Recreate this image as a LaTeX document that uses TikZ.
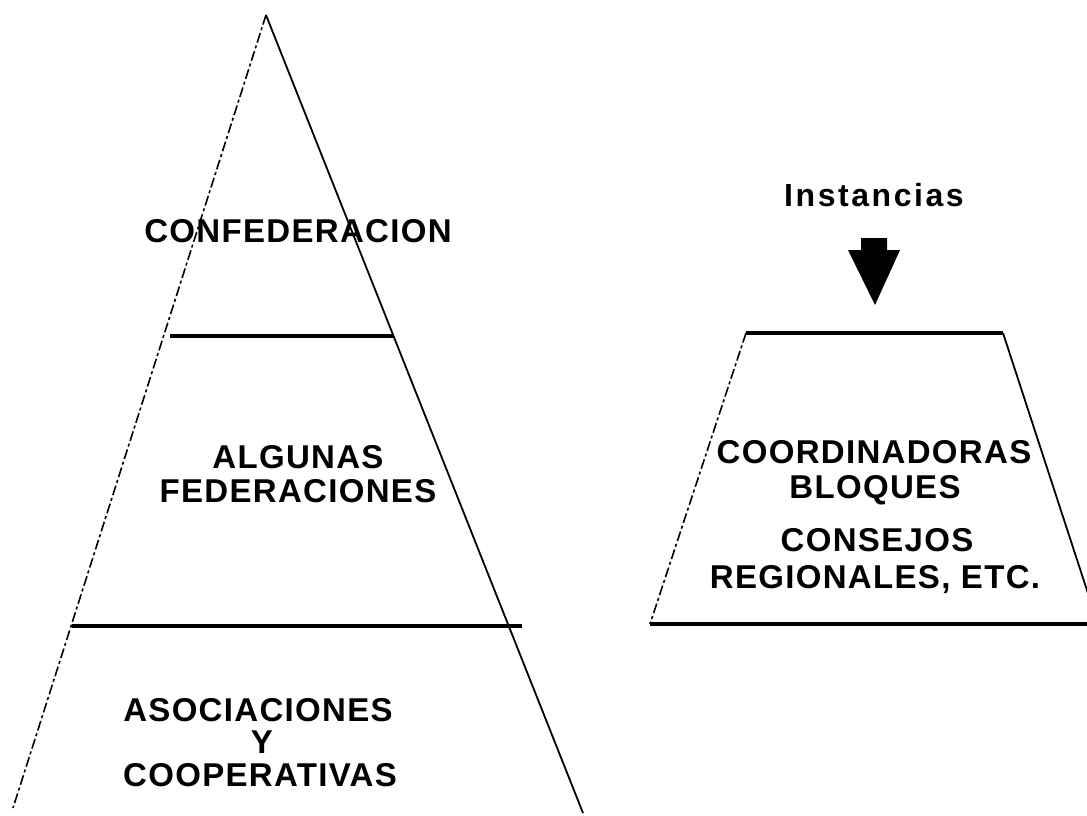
\documentclass[tikz,border=0pt]{standalone}
\usepackage{fontspec}
\newfontfamily\labfont{Liberation Sans}[LetterSpace=4]
\newfontfamily\instfont{Liberation Sans}[LetterSpace=8]
\begin{document}
\begin{tikzpicture}[x=1pt,y=-1pt,
  lbl/.style={font=\labfont\bfseries\fontsize{33}{36}\selectfont, anchor=base, inner sep=0pt},
  side/.style={line width=1.8pt},
  broken/.style={line width=1.6pt, dash pattern=on 10pt off 3pt on 3pt off 3pt},
  level/.style={line width=3.2pt}]
\clip (0,0) rectangle (1087,816);
\fill[white] (0,0) rectangle (1087,816);
% pyramid
\coordinate (apex) at (266,15);
\coordinate (bl) at (13,808);
\coordinate (br) at (583,813);
\draw[broken] (apex) -- (bl);
\draw[side] (apex) -- (br);
\coordinate (l1a) at (170,336);
\coordinate (l1b) at (393,336);
\coordinate (l2a) at (72,626);
\coordinate (l2b) at (522,626);
\draw[level] (l1a) -- (l1b);
\draw[level] (l2a) -- (l2b);
% pyramid labels
\node[lbl] (conf) at (298,242) {CONFEDERACION};
\node[lbl] (alg) at (298,468) {ALGUNAS};
\node[lbl] (fed) at (298,502) {FEDERACIONES};
\node[lbl] (aso) at (258,721) {ASOCIACIONES};
\node[lbl] (y) at (262,753) {Y};
\node[lbl] (coop) at (260,786) {COOPERATIVAS};
% trapezoid
\coordinate (tl) at (746,333);
\coordinate (tr) at (1003,333);
\coordinate (bl2) at (650,624);
\coordinate (br2) at (1098,624);
\draw[broken] (tl) -- (bl2);
\draw[side] (tr) -- (br2);
\draw[level] (tl) -- (tr);
\draw[level] (bl2) -- (br2);
% instancias + arrow
\node[lbl, font=\instfont\bfseries\fontsize{32}{36}\selectfont] (inst) at (874,206) {Instancias};
\fill (861,238) -- (887,238) -- (887,250) -- (900,250) -- (875,305) -- (848,250) -- (861,250) -- cycle;
% trapezoid labels
\node[lbl] (coord) at (874,463) {COORDINADORAS};
\node[lbl] (bloq) at (875,498) {BLOQUES};
\node[lbl] (cons) at (877,551) {CONSEJOS};
\node[lbl] (reg) at (875,588) {REGIONALES, ETC.};
\end{tikzpicture}
\end{document}
